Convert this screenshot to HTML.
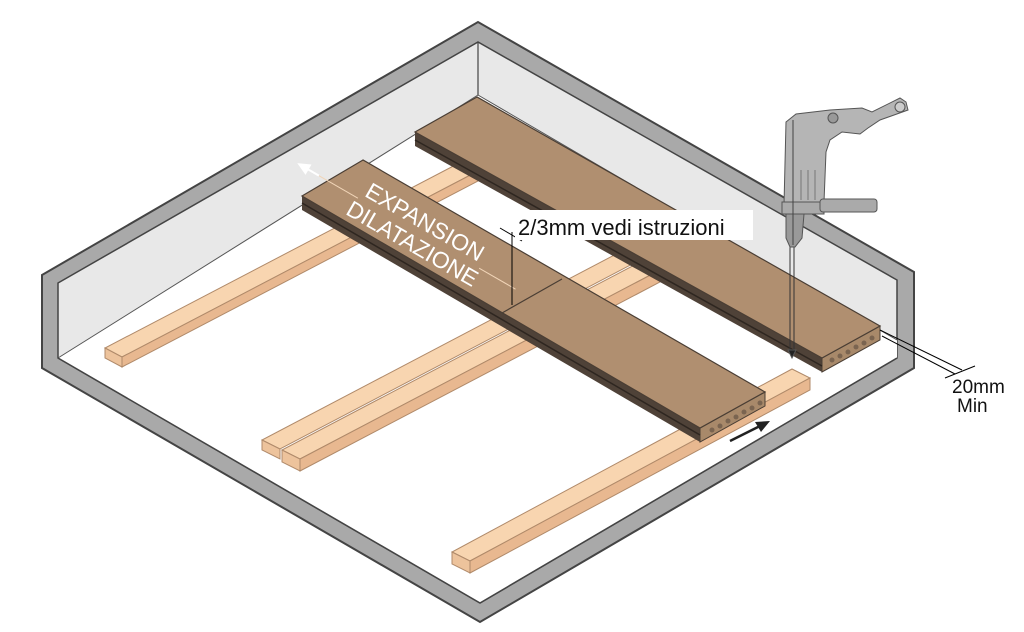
<!DOCTYPE html>
<html><head><meta charset="utf-8"><style>
html,body{margin:0;padding:0;background:#fff;}
svg{display:block;}
text{font-family:"Liberation Sans",Arial,sans-serif;}
</style></head><body>
<svg width="1024" height="632" viewBox="0 0 1024 632" xmlns="http://www.w3.org/2000/svg">
<polygon points="42,275 478,22 914,272 914,368 480,622 42,368" fill="#a9a9a9" stroke="#444" stroke-width="2"/>
<polygon points="58,283 478,42 897,280 897,358 480,603 58,358" fill="#e8e8e8" stroke="#444" stroke-width="1.5"/>
<polygon points="58,358 478,95 897,340 897,358 480,603" fill="#fff"/>
<line x1="58" y1="358" x2="478" y2="95" stroke="#555" stroke-width="1"/>
<line x1="478" y1="95" x2="897" y2="340" stroke="#555" stroke-width="1"/>
<line x1="478" y1="42" x2="478" y2="95" stroke="#444" stroke-width="1.2"/>
<line x1="58" y1="358" x2="480" y2="603" stroke="#444" stroke-width="1.5"/>
<line x1="480" y1="603" x2="897" y2="358" stroke="#444" stroke-width="1.5"/>

<g stroke="#b08a6a" stroke-width="1">
 <polygon points="105,348 122,357 480,170 463,161" fill="#f8d5b0"/>
 <polygon points="105,348 122,357 122,367 105,358" fill="#edc39c"/>
 <polygon points="122,357 480,170 480,180 122,367" fill="#e8b890"/>
 <polygon points="262,440 280,449 640,260 622,251" fill="#f8d5b0"/>
 <polygon points="262,440 280,449 280,459 262,450" fill="#edc39c"/>
 <polygon points="282,450 300,459 660,270 642,261" fill="#f8d5b0"/>
 <polygon points="282,450 300,459 300,471 282,462" fill="#edc39c"/>
 <polygon points="300,459 660,270 660,282 300,471" fill="#e8b890"/>
 <polygon points="452,552 470,561 810,378 792,369" fill="#f8d5b0"/>
 <polygon points="452,552 470,561 470,573 452,564" fill="#edc39c"/>
 <polygon points="470,561 810,378 810,390 470,573" fill="#e8b890"/>
</g>

<polygon points="415,132 822,358 822,372 415,146" fill="#4f4238"/>
<polygon points="822,358 880,326 880,340 822,372" fill="#a8896a" stroke="#4a3e34" stroke-width="1"/>
<polygon points="477,97 415,132 822,358 880,326" fill="#b08f70" stroke="#4a3e34" stroke-width="1.2"/>
<line x1="415" y1="140" x2="822" y2="366" stroke="#2e2620" stroke-width="1.5"/>
<g fill="#7a6450"><circle cx="832" cy="360" r="2.5"/><circle cx="840" cy="356" r="2.5"/><circle cx="848" cy="352" r="2.5"/><circle cx="856" cy="347" r="2.5"/><circle cx="864" cy="343" r="2.5"/><circle cx="872" cy="338" r="2.5"/></g>

<polygon points="302,196 700,428 700,442 302,210" fill="#4f4238"/>
<polygon points="700,428 765,392 765,406 700,442" fill="#a8896a" stroke="#4a3e34" stroke-width="1"/>
<polygon points="363,160 302,196 700,428 765,392" fill="#b08f70" stroke="#4a3e34" stroke-width="1.2"/>
<line x1="302" y1="203" x2="700" y2="435" stroke="#2e2620" stroke-width="1.5"/>
<line x1="502" y1="313" x2="562" y2="279" stroke="#4a3e34" stroke-width="1.2"/>
<g fill="#7a6450"><circle cx="712" cy="430" r="2.5"/><circle cx="720" cy="426" r="2.5"/><circle cx="728" cy="421" r="2.5"/><circle cx="736" cy="417" r="2.5"/><circle cx="744" cy="412" r="2.5"/><circle cx="752" cy="408" r="2.5"/><circle cx="760" cy="403" r="2.5"/></g>

<g transform="translate(418,234) rotate(30)" fill="#fff">
 <text x="0" y="-6" font-size="23" text-anchor="middle">EXPANSION</text>
 <text x="0" y="19" font-size="23" text-anchor="middle">DILATAZIONE</text>
 <line x1="-115" y1="-1" x2="-70" y2="-1" stroke="#f1d5b8" stroke-width="1"/>
 <line x1="-130" y1="-1" x2="-115" y2="-1" stroke="#fff" stroke-width="2"/>
 <polygon points="-140,-1 -127,-7 -127,5"/>
 <line x1="70" y1="-1" x2="112" y2="-1" stroke="#f1d5b8" stroke-width="1"/>
</g>

<line x1="512" y1="232" x2="512" y2="305" stroke="#000" stroke-width="1"/>
<line x1="500" y1="228" x2="522" y2="241" stroke="#000" stroke-width="1"/>
<rect x="515" y="210" width="238" height="30" fill="#fff"/>
<text x="518" y="235" font-size="22" fill="#111">2/3mm vedi istruzioni</text>

<g stroke="#555" stroke-width="1">
 <line x1="790" y1="245" x2="790" y2="352" stroke="#333"/>
 <line x1="794" y1="245" x2="794" y2="352" stroke="#333"/>
 <polygon points="788,350 796,350 792,358" fill="#222"/>
 <polygon points="786,122 796,114 830,110 862,108 872,112 900,98 906,102 908,110 880,120 868,128 860,134 842,132 830,140 826,152 824,202 784,205" fill="#b5b5b5"/>
 <circle cx="833" cy="118" r="5" fill="#999"/>
 <circle cx="900" cy="107" r="5" fill="#ccc"/>
 <rect x="782" y="202" width="42" height="12" fill="#aaa"/>
 <rect x="820" y="199" width="57" height="13" rx="3" fill="#aaa"/>
 <path d="M786,214 L804,214 L802,238 L795,247 L790,247 L786,238 Z" fill="#999"/>
 <line x1="793" y1="120" x2="793" y2="245" stroke="#444"/>
 <line x1="801" y1="170" x2="801" y2="200" stroke="#777"/>
 <line x1="808" y1="170" x2="808" y2="200" stroke="#777"/>
 <line x1="815" y1="170" x2="815" y2="200" stroke="#777"/>
</g>

<line x1="880" y1="330" x2="962" y2="370" stroke="#000" stroke-width="1"/>
<line x1="882" y1="336" x2="955" y2="374" stroke="#000" stroke-width="1"/>
<line x1="945" y1="378" x2="975" y2="366" stroke="#000" stroke-width="1"/>
<text x="952" y="393" font-size="19" fill="#111">20mm</text>
<text x="957" y="412" font-size="19" fill="#111">Min</text>

<line x1="730" y1="441" x2="760" y2="426" stroke="#222" stroke-width="2.5"/>
<polygon points="770,421 755,422 761,432" fill="#222"/>
</svg>
</body></html>
